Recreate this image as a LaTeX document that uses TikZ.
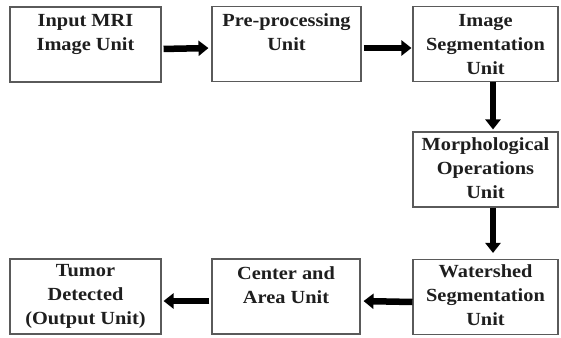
\documentclass[tikz,border=0pt]{standalone}
\usepackage{fontspec}
\setmainfont{Liberation Serif}[FakeStretch=1.1]
\usetikzlibrary{arrows.meta,positioning}
\definecolor{boxline}{HTML}{5A5A5A}
\definecolor{ink}{HTML}{1E1E1E}
\tikzset{
  unit/.style={draw=boxline, line width=1.1pt, fill=white, inner sep=0pt,
    minimum width=#1, minimum height=75pt},
  unit/.default=148pt,
  caption/.style={anchor=north, align=center, inner sep=0pt, text=ink,
    font=\fontsize{18.5}{24}\selectfont\bfseries},
  flow/.style={draw=black, line width=6.5pt,
    -{Triangle[length=10pt,width=15pt]}},
}
\begin{document}
\begin{tikzpicture}[x=1pt,y=-1pt]
\useasboundingbox (0,0) rectangle (561,337);
% top row
\node[unit=151pt] (b1) at (85.5,44.5) {};
\node[unit=149pt] (b2) at (286.5,44) {};
\node[unit=145pt] (b3) at (485.5,44) {};
% right column
\node[unit=145pt] (b4) at (485.5,169.5) {};
\node[unit=145pt] (b5) at (485.5,297) {};
% bottom row
\node[unit=148pt] (b6) at (286,296.5) {};
\node[unit=151pt] (b7) at (85.5,296.5) {};
% captions
\node[caption] (t1) at ([yshift=-8pt]b1.north) {Input MRI\\Image Unit};
\node[caption] (t2) at ([yshift=-8pt]b2.north) {Pre-processing\\Unit};
\node[caption] (t3) at ([yshift=-8pt]b3.north) {Image\\Segmentation\\Unit};
\node[caption] (t4) at ([yshift=-6pt]b4.north) {Morphological\\Operations\\Unit};
\node[caption] (t5) at ([yshift=-6pt]b5.north) {Watershed\\Segmentation\\Unit};
\node[caption] (t6) at ([yshift=-8pt]b6.north) {Center and\\Area Unit};
\node[caption] (t7) at ([yshift=-6pt]b7.north) {Tumor\\Detected\\(Output Unit)};
% connectors
\draw[flow, shorten <=2pt, shorten >=3pt] ([yshift=-4.5pt]b1.east) -- ([yshift=-4pt]b2.west);
\draw[flow, shorten <=2pt, shorten >=1pt] ([yshift=-4pt]b2.east) -- ([yshift=-4pt]b3.west);
\draw[flow, shorten >=2pt] ([xshift=7.5pt]b3.south) -- ([xshift=7.5pt]b4.north);
\draw[flow, shorten >=6pt] ([xshift=7.5pt]b4.south) -- ([xshift=7.5pt]b5.north);
\draw[flow, shorten >=3pt] ([yshift=-5pt]b5.west) -- ([yshift=-4.5pt]b6.east);
\draw[flow, shorten <=2pt, shorten >=2pt] ([yshift=-4.5pt]b6.west) -- ([yshift=-4.5pt]b7.east);
\end{tikzpicture}
\end{document}
